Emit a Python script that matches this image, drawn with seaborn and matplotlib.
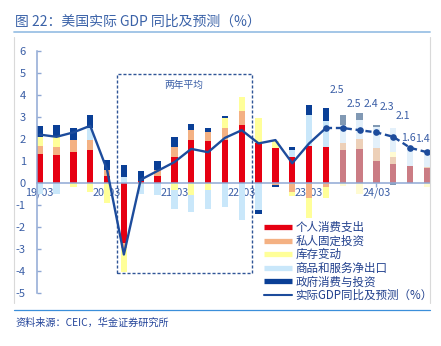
import numpy as np
import pandas as pd
import matplotlib
matplotlib.use("Agg")
import matplotlib.pyplot as plt
import seaborn as sns
from matplotlib.lines import Line2D
from matplotlib.patches import Rectangle

# ---------------- data ----------------
quarters = ["19Q1", "19Q2", "19Q3", "19Q4", "20Q1", "20Q2", "20Q3", "20Q4",
            "21Q1", "21Q2", "21Q3", "21Q4", "22Q1", "22Q2", "22Q3", "22Q4",
            "23Q1", "23Q2", "23Q3", "23Q4", "24Q1", "24Q2", "24Q3", "24Q4"]
tick_quarters = ["19Q1", "20Q1", "21Q1", "22Q1", "23Q1", "24Q1"]
tick_labels = ["19/03", "20/03", "21/03", "22/03", "23/03", "24/03"]

consumption = [1.3, 1.25, 1.4, 1.5, 0.3, -2.75, 0.1, 0.3, 1.2, 1.95, 1.9, 1.95,
               2.65, 1.8, 1.6, 1.2, 1.7, 1.65, 1.5, 1.55, 1.0, 0.87, 0.75, 0.68]
fixed_investment = [0.4, 0.4, 0.55, 0.45, 0.3, -0.2, 0.0, 0.3, 0.45, 0.45, 0.4, 0.55,
                    0.6, 0.0, -0.1, -0.4, -0.7, -0.2, 0.3, 0.45, 0.6, 0.33, 0.0, 0.05]
inventories = [0.4, 0.45, -0.2, -0.4, -0.9, -1.1, -0.05, 0.0, -0.3, -0.55, -0.3, 0.45,
               0.65, 1.15, 0.3, -0.2, -0.9, -0.5, -0.15, -0.5, 0.0, 0.2, 0.0, -0.2]
net_exports = [-0.5, -0.5, 0.0, 0.55, 0.0, 0.25, -0.45, -0.55, -0.9, -0.75, -0.9, -1.1,
               -1.7, -1.25, 0.0, 0.3, 1.4, 1.15, 0.85, 0.85, 0.95, 1.1, 0.9, 0.7]
government = [0.5, 0.55, 0.55, 0.6, 0.45, 0.55, 0.45, 0.4, 0.45, 0.3, 0.2, 0.1,
              0.0, -0.15, -0.1, 0.15, 0.45, 0.6, 0.45, 0.35, 0.1, -0.1, 0.0, 0.0]
gdp_yoy = [2.2, 2.1, 2.3, 2.6, 0.6, -3.25, 0.15, 0.55, 0.95, 1.55, 1.4, 2.05,
           2.4, 1.8, 1.95, 0.9, 1.8, 2.5, 2.5, 2.4, 2.3, 2.1, 1.6, 1.4]
gdp_value_labels = ["2.5", "2.5", "2.4", "2.3", "2.1", "1.6", "1.4"]

series_names = ["个人消费支出", "私人固定投资", "库存变动", "商品和服务净出口", "政府消费与投资"]
gdp_name = "实际GDP同比及预测（%）"
first_forecast = "23Q3"
last_actual = "23Q2"
box_start, box_end = "20Q2", "22Q1"
box_label = "两年平均"
title = "图 22：美国实际 GDP 同比及预测（%）"
source = "资料来源：CEIC，华金证券研究所"

# ---------------- styles ----------------
actual_colors = ["#E60012", "#F4B183", "#FFFF99", "#C9E7FA", "#0A3F96"]
forecast_colors = ["#CB7C84", "#EDD0B8", "#FFFBD2", "#E3F0FA", "#8199B4"]
line_color = "#1D4C9C"
text_blue = "#3A5EA6"
spine_color = "#8FA8D4"
label_offsets_px = [(11, 38), (11, 24), (11, 26), (10, 25), (10, 21), (-2, 10), (-4, 13)]

sns.set_theme(style="white")
plt.rcParams["font.family"] = ["Noto Sans CJK SC", "DejaVu Sans"]
plt.rcParams["axes.unicode_minus"] = False

W, H = 441, 346
fig = plt.figure(figsize=(W / 100, H / 100), dpi=100)
ax = fig.add_axes([37 / W, 53 / H, 393 / W, 242 / H])

x = np.arange(len(quarters))
fc_idx = quarters.index(first_forecast)
pos_bottom = np.zeros(len(quarters))
neg_bottom = np.zeros(len(quarters))
for vals, ca, cf in zip([consumption, fixed_investment, inventories, net_exports, government],
                        actual_colors, forecast_colors):
    v = np.array(vals, dtype=float)
    cols = [ca if i < fc_idx else cf for i in range(len(quarters))]
    pos = np.where(v > 0, v, 0.0)
    neg = np.where(v < 0, v, 0.0)
    ax.bar(x, pos, bottom=pos_bottom, width=0.375, color=cols, linewidth=0, zorder=2)
    ax.bar(x, neg, bottom=neg_bottom, width=0.375, color=cols, linewidth=0, zorder=2)
    pos_bottom += pos
    neg_bottom += neg

df = pd.DataFrame({"x": x, "gdp": gdp_yoy})
la = quarters.index(last_actual)
sns.lineplot(data=df.iloc[:la + 1], x="x", y="gdp", color=line_color, lw=1.7, ax=ax, zorder=4)
sns.lineplot(data=df.iloc[la:], x="x", y="gdp", color=line_color, lw=1.7,
             linestyle=(0, (2.6, 1.6)), marker="o", markersize=4.8, markeredgewidth=0,
             ax=ax, zorder=4)

for k, (lab, off) in enumerate(zip(gdp_value_labels, label_offsets_px)):
    i = la + k
    ax.annotate(lab, (x[i], gdp_yoy[i]), xytext=off, textcoords="offset pixels",
                ha="center", va="center", fontsize=7.6, color=text_blue, zorder=5)

# two-year average box
b0 = quarters.index(box_start) - 0.41
b1 = quarters.index(box_end) + 0.6
ax.add_patch(Rectangle((b0, -4.1), b1 - b0, 9.05, fill=False, ec="#2F5597",
                       lw=1.0, ls=(0, (2.2, 1.4)), zorder=3))
ax.text((b0 + b1) / 2 + 0.0, 4.45, box_label, ha="center", va="center",
        fontsize=7, color=text_blue)

ax.set_xlim(-0.16, 23.18)
ax.set_ylim(-5, 6)
ax.set_yticks(range(-5, 7))
ax.set_xticks([quarters.index(q) for q in tick_quarters])
ax.set_xticklabels(tick_labels)
ax.set_xlabel("")
ax.set_ylabel("")
for s in ["top", "right"]:
    ax.spines[s].set_visible(False)
ax.spines["bottom"].set_position(("data", 0))
ax.spines["bottom"].set_color(spine_color)
ax.spines["left"].set_color(spine_color)
ax.spines["bottom"].set_linewidth(1.1)
ax.spines["left"].set_linewidth(1.1)
ax.tick_params(axis="y", left=True, direction="in", length=3, width=1, color=spine_color,
               labelcolor=text_blue, labelsize=8, pad=8)
ax.tick_params(axis="x", bottom=True, direction="out", length=3, width=1, color=spine_color,
               labelcolor=text_blue, labelsize=7.8, pad=0.5)
ax.patch.set_alpha(0)

handles = [Line2D([0], [0], color=c, lw=3.8, solid_capstyle="butt") for c in actual_colors]
handles.append(Line2D([0], [0], color=line_color, lw=1.5))
fig.legend(handles, series_names + [gdp_name], loc="upper left",
           bbox_to_anchor=(264 / W, 1 - 221 / H), frameon=False, fontsize=8.3,
           handlelength=2.45, handletextpad=0.3, labelspacing=0.05, borderpad=0,
           borderaxespad=0, labelcolor="#22418E")

# title, rules, frame and source
fig.text(15 / W, 1 - 21.5 / H, title, ha="left", va="center", fontsize=10, color="#3A62A8")
fig.add_artist(Line2D([14 / W, 430 / W], [1 - 32.3 / H] * 2, color="#9CC2E5", lw=1.3))
fig.add_artist(Line2D([14 / W, 430 / W], [1 - 310 / H] * 2, color="#3B8FDA", lw=0.9))
for xv in (14, 429.5):
    fig.add_artist(Line2D([xv / W] * 2, [1 - 303 / H, 1 - 37 / H], color="#D9D9D9", lw=0.8))
fig.text(15 / W, 1 - 323 / H, source, ha="left", va="center", fontsize=7.3,
         color="#23449A", style="italic")

fig.savefig("out.png", dpi=100)
